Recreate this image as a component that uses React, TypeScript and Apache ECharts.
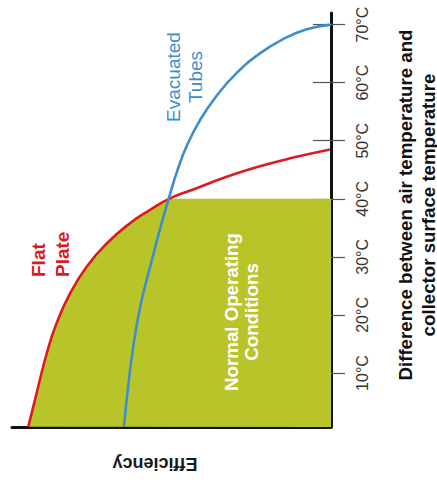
import { useEffect, useRef } from "react";
import * as echarts from "echarts";

// Temperature difference (°C) tick values
const tempTicks = [10, 20, 30, 40, 50, 60, 70];
const tempMin = 0.7;
const tempMax = 72;

// Flat plate collector: efficiency (0..1) vs temperature difference (°C)
const flatPlateEff = [0.949, 0.923, 0.891, 0.86, 0.818, 0.766, 0.703, 0.63, 0.567, 0.508, 0.432, 0.327, 0.223, 0.118, 0.003];
const flatPlateTemp = [0.75, 6.5, 13.4, 18.6, 23.7, 28.3, 32.3, 35.8, 38.1, 40.0, 41.6, 43.8, 45.6, 47.1, 48.5];

// Evacuated tubes collector
const tubesEff = [0.649, 0.636, 0.62, 0.6, 0.578, 0.556, 0.534, 0.51, 0.482, 0.45, 0.41, 0.359, 0.297, 0.224, 0.15, 0.076, 0.0];
const tubesTemp = [0.75, 7.6, 14.5, 20.9, 26.0, 30.6, 35.2, 39.8, 44.8, 49.4, 53.6, 57.7, 61.6, 65.0, 67.5, 69.2, 70.0];

// Normal operating conditions: up to this temperature difference
const normalOperatingMaxTemp = 40;

const FONT = '"Liberation Sans", Arial, Helvetica, sans-serif';

export default function App() {
  const ref = useRef<HTMLDivElement>(null);

  useEffect(() => {
    if (!ref.current) return;
    const chart = echarts.init(ref.current, null, { renderer: "svg" });

    const flatData = flatPlateEff.map((e, i) => [e, flatPlateTemp[i]]);
    const tubesData = tubesEff.map((e, i) => [e, tubesTemp[i]]);
    const fillBoundary = flatData.filter((p) => p[1] <= normalOperatingMaxTemp);

    const option: any = {
      animation: false,
      backgroundColor: "#ffffff",
      grid: { left: 12, right: 106, top: 13, bottom: 60 },
      xAxis: {
        type: "value",
        min: 0,
        max: 1,
        inverse: true,
        position: "bottom",
        axisLine: { show: true, onZero: false, lineStyle: { color: "#111", width: 3 } },
        axisTick: { show: false },
        axisLabel: { show: false },
        splitLine: { show: false },
      },
      yAxis: [
        {
          type: "value",
          min: tempMin,
          max: tempMax,
          position: "right",
          axisLine: { show: true, onZero: false, lineStyle: { color: "#111", width: 3 } },
          axisTick: {
            show: true,
            length: 14,
            customValues: tempTicks,
            lineStyle: { color: "#555", width: 1.2 },
          },
          axisLabel: {
            show: true,
            customValues: tempTicks,
            rotate: 90,
            margin: 23,
            formatter: "{value}°C",
            fontSize: 16,
            color: "#333",
            fontFamily: FONT,
          },
          splitLine: { show: false },
        },
        {
          type: "value",
          min: tempMin,
          max: tempMax,
          position: "right",
          offset: 0,
          axisLine: { show: false, onZero: false },
          axisTick: {
            show: true,
            inside: true,
            length: 18,
            customValues: tempTicks,
            lineStyle: { color: "#555", width: 1.2 },
          },
          axisLabel: { show: false },
          splitLine: { show: false },
        },
      ],
      series: [
        {
          type: "custom",
          name: "Normal Operating Conditions",
          z: 1,
          data: [[0, tempMin]],
          renderItem: (params: any, api: any) => {
            const pts = fillBoundary.map((p) => api.coord(p));
            pts.push(api.coord([0, normalOperatingMaxTemp]));
            pts.push(api.coord([0, tempMin]));
            return {
              type: "polygon",
              shape: { points: pts },
              style: { fill: "#b9c42a", stroke: "none" },
            };
          },
        },
        {
          type: "line",
          name: "Flat Plate",
          z: 3,
          data: flatData,
          smooth: 0.5,
          smoothMonotone: null,
          showSymbol: false,
          lineStyle: { color: "#dc1a20", width: 2.6 },
        },
        {
          type: "line",
          name: "Evacuated Tubes",
          z: 4,
          data: tubesData,
          smooth: 0.5,
          smoothMonotone: null,
          showSymbol: false,
          lineStyle: { color: "#3d8dcf", width: 2.6 },
        },
      ],
      graphic: [
        {
          type: "text",
          x: 50,
          y: 277,
          rotation: Math.PI / 2,
          z: 10,
          style: {
            text: "Flat\nPlate",
            fill: "#dc1a20",
            fontSize: 19,
            fontWeight: "bold",
            fontFamily: FONT,
            lineHeight: 24,
            align: "left",
            verticalAlign: "middle",
          },
        },
        {
          type: "text",
          x: 184,
          y: 77,
          rotation: Math.PI / 2,
          z: 10,
          style: {
            text: "Evacuated\nTubes",
            fill: "#3d8dcf",
            fontSize: 19,
            fontFamily: FONT,
            lineHeight: 22,
            align: "center",
            verticalAlign: "middle",
          },
        },
        {
          type: "text",
          x: 241,
          y: 312,
          rotation: Math.PI / 2,
          z: 10,
          style: {
            text: "Normal Operating\nConditions",
            fill: "#ffffff",
            fontSize: 18.7,
            fontWeight: "bold",
            fontFamily: FONT,
            lineHeight: 20,
            align: "center",
            verticalAlign: "middle",
          },
        },
        {
          type: "text",
          x: 155,
          y: 464,
          rotation: Math.PI,
          z: 10,
          style: {
            text: "Efficiency",
            fill: "#1a1a1a",
            fontSize: 18,
            fontWeight: "bold",
            fontFamily: FONT,
            align: "center",
            verticalAlign: "middle",
          },
        },
        {
          type: "text",
          x: 416.5,
          y: 205,
          rotation: Math.PI / 2,
          z: 10,
          style: {
            text: "Difference between air temperature and\ncollector surface temperature",
            fill: "#111111",
            fontSize: 18.7,
            fontWeight: "bold",
            fontFamily: FONT,
            lineHeight: 23,
            align: "center",
            verticalAlign: "middle",
          },
        },
      ],
    };

    chart.setOption(option);
    return () => {
      chart.dispose();
    };
  }, []);

  return (
    <div
      ref={ref}
      style={{ position: "fixed", left: 0, top: 0, width: 437, height: 487, background: "#fff" }}
    />
  );
}
